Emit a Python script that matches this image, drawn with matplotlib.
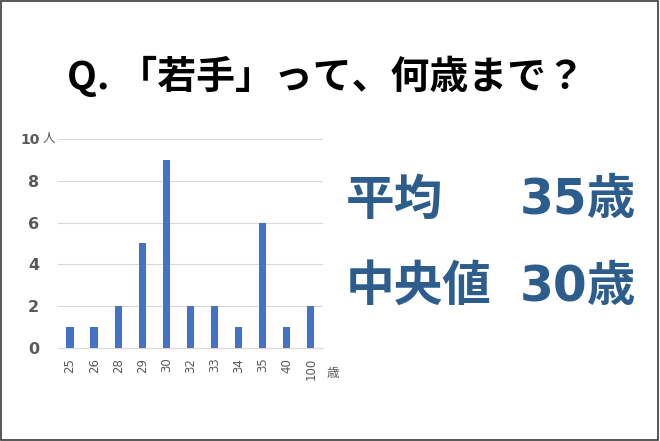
import matplotlib
matplotlib.use("Agg")
import matplotlib.pyplot as plt
from matplotlib.patches import Rectangle

plt.rcParams['font.family'] = ['Noto Sans CJK JP', 'DejaVu Sans']
latin_first = ['DejaVu Sans', 'Noto Sans CJK JP']

# data
ages = ['25', '26', '28', '29', '30', '32', '33', '34', '35', '40', '100']
counts = [1, 1, 2, 5, 9, 2, 2, 1, 6, 1, 2]
y_ticks = [0, 2, 4, 6, 8, 10]

title = 'Q. 「若手」って、何歳まで？'
stat_names = ['平均', '中央値']
stat_values = ['35歳', '30歳']

bar_color = '#4472C4'
label_gray = '#595959'
stat_color = '#2C5D8C'

fig = plt.figure(figsize=(6.6, 4.41), dpi=100)
fig.patch.set_facecolor('white')

# outer frame
fig.patches.append(Rectangle((0.001, 0.002), 0.996, 0.996, transform=fig.transFigure,
                             fill=False, edgecolor='#3c3a38', linewidth=1.2))

fig.text(0.494, 0.828, title, ha='center', va='center', fontsize=28,
         fontweight='bold', color='black')

ax = fig.add_axes([0.088, 0.211, 0.401, 0.474])
x = range(len(ages))
ax.bar(x, counts, width=0.31, color=bar_color, zorder=3)
ax.set_xlim(-0.5, len(ages) - 0.5)
ax.set_ylim(0, 10)
ax.set_yticks(y_ticks)
ax.set_yticklabels([str(v) for v in y_ticks], family=latin_first,
                   fontweight='bold', fontsize=11.5)
ax.set_xticks(list(x))
ax.set_xticklabels(ages, rotation=90, family=latin_first, fontsize=8.5)
ax.grid(axis='y', color='#D9D9D9', linewidth=0.8, zorder=0)
for s in ['top', 'right', 'left']:
    ax.spines[s].set_visible(False)
ax.spines['bottom'].set_color('#D9D9D9')
ax.tick_params(axis='both', length=0, colors=label_gray)
ax.tick_params(axis='y', pad=13.5)
ax.tick_params(axis='x', pad=7)
ax.get_yticklabels()[-1].set_fontsize(10)

# unit labels
fig.text(0.074, 0.687, '人', ha='center', va='center', fontsize=9, color=label_gray)
fig.text(0.504, 0.154, '歳', ha='center', va='center', fontsize=9, color=label_gray)

# summary stats on the right
rows_y = [0.546, 0.35]
for name, val, yy in zip(stat_names, stat_values, rows_y):
    fig.text(0.524, yy, name, ha='left', va='center', fontsize=35,
             fontweight='bold', color=stat_color)
    fig.text(0.964, yy, val, ha='right', va='center', fontsize=35,
             fontweight='bold', color=stat_color, family=latin_first)

fig.savefig('out.png', dpi=100, facecolor='white')
